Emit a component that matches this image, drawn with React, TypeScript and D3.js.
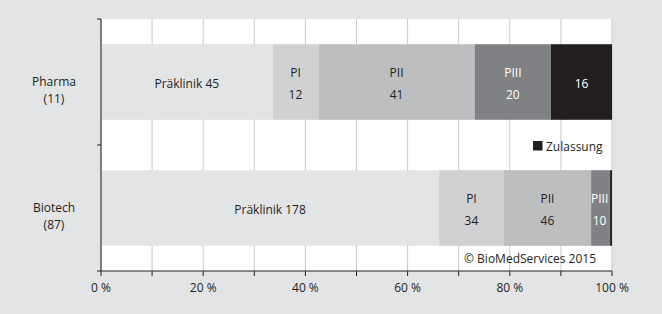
import React from "react";
import * as d3 from "d3";

const categories = ["Pharma", "Biotech"];
const categoryCounts = ["(11)", "(87)"];
const phases = ["Präklinik", "PI", "PII", "PIII", "Zulassung"];
const pharmaValues = [45, 12, 41, 20, 16];
const biotechValues = [178, 34, 46, 10, 1];
const xTicks = [0, 10, 20, 30, 40, 50, 60, 70, 80, 90, 100];
const xLabelTicks = [0, 20, 40, 60, 80, 100];

const colors = ["#e3e4e6", "#d0d1d3", "#bdbec0", "#808184", "#231f20"];
const textColors = ["#231f20", "#231f20", "#231f20", "#ffffff", "#ffffff"];

const W = 662, H = 314;
const left = 101, right = 612, top = 19, bottom = 271;
const font = "'Open Sans', sans-serif";

export default function App() {
  const x = d3.scaleLinear().domain([0, 100]).range([left, right]);
  const y = d3.scaleBand().domain(categories).range([top, bottom]).paddingInner(0.4).paddingOuter(0.2);
  const rows = [pharmaValues, biotechValues];
  const stacked = rows.map((vals) => {
    const total = d3.sum(vals);
    let acc = 0;
    return vals.map((v, i) => {
      const s = (acc / total) * 100;
      acc += v;
      return { i, v, s, e: (acc / total) * 100 };
    });
  });
  const labelFor = (ci: number, i: number, v: number) => {
    if (i === 0) return { lines: [`${phases[0]} ${v}`] };
    if (i === 4) return ci === 0 ? { lines: [`${v}`] } : { lines: [] };
    return { lines: [phases[i], `${v}`] };
  };
  return (
    <svg width={W} height={H} style={{ position: "absolute", left: 0, top: 0 }} fontFamily={font}>
      <rect x={0} y={0} width={W} height={H} fill="#e3e4e6" />
      <rect x={left} y={top} width={right - left} height={bottom - top} fill="#ffffff" />
      {xTicks.map((t) => (
        <line key={"g" + t} x1={x(t)} x2={x(t)} y1={top} y2={bottom} stroke="#c8c9cb" strokeWidth={1} />
      ))}
      {categories.map((c, ci) => {
        const by = y(c)!;
        const bh = y.bandwidth();
        return (
          <g key={c}>
            {stacked[ci].map((d) => (
              <rect key={d.i} x={x(d.s)} y={by} width={x(d.e) - x(d.s)} height={bh} fill={colors[d.i]} />
            ))}
            {stacked[ci].map((d) => {
              const lab = labelFor(ci, d.i, d.v);
              const cx = (x(d.s) + x(d.e)) / 2;
              const cy = by + bh / 2;
              if (lab.lines.length === 1)
                return (
                  <text key={"t" + d.i} x={cx} y={cy + 5.5} textAnchor="middle" fontSize={12} fill={textColors[d.i]}>
                    {lab.lines[0]}
                  </text>
                );
              return lab.lines.map((ln, k) => (
                <text key={"t" + d.i + k} x={cx - (ci === 1 && d.i === 3 ? 1 : 0)} y={cy - 5 + k * 22} textAnchor="middle" fontSize={12} fill={textColors[d.i]}>
                  {ln}
                </text>
              ));
            })}
            <text x={54} y={by + bh / 2 + 4} textAnchor="middle" fontSize={12} fill="#231f20">{c}</text>
            <text x={54} y={by + bh / 2 + 20.5} textAnchor="middle" fontSize={12} fill="#231f20">{categoryCounts[ci]}</text>
          </g>
        );
      })}
      <line x1={left} x2={left} y1={top} y2={bottom} stroke="#231f20" strokeWidth={1} />
      <line x1={97} x2={right} y1={bottom} y2={bottom} stroke="#231f20" strokeWidth={1} />
      {[top, (y("Pharma")! + y.bandwidth() + y("Biotech")!) / 2].map((ty, k) => (
        <line key={"yt" + k} x1={97} x2={left} y1={ty} y2={ty} stroke="#231f20" strokeWidth={1} />
      ))}
      {xTicks.map((t) => (
        <line key={"xt" + t} x1={x(t)} x2={x(t)} y1={bottom} y2={bottom + 5} stroke="#231f20" strokeWidth={1} />
      ))}
      {xLabelTicks.map((t) => (
        <text key={"xl" + t} x={x(t)} y={292} textAnchor="middle" fontSize={12} fill="#231f20">{`${t} %`}</text>
      ))}
      <rect x={533} y={141} width={9.5} height={9.5} fill="#231f20" />
      <text x={546} y={150.5} fontSize={12} fill="#231f20">{phases[4]}</text>
      <text x={596} y={263} textAnchor="end" fontSize={12} fill="#231f20">© BioMedServices 2015</text>
    </svg>
  );
}
